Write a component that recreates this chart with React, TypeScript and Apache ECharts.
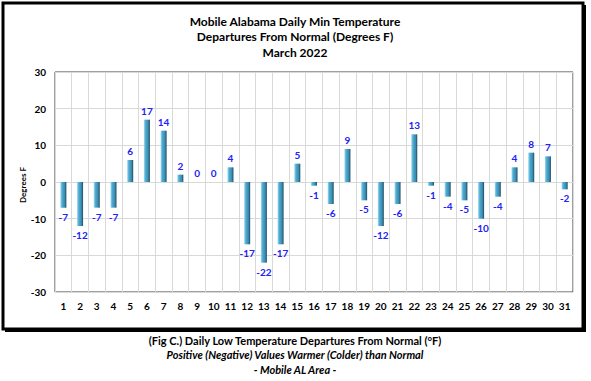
import React, { useEffect, useRef } from "react";
import * as echarts from "echarts";

const days = Array.from({ length: 31 }, (_, i) => String(i + 1));
const departures = [-7, -12, -7, -7, 6, 17, 14, 2, 0, 0, 4, -17, -22, -17, 5, -1, -6, 9, -5, -12, -6, 13, -1, -4, -5, -10, -4, 4, 8, 7, -2];
const titleLines = ["Mobile Alabama Daily Min Temperature", "Departures From Normal (Degrees F)", "March 2022"];
const captionLines = [
  "(Fig C.) Daily Low Temperature Departures From Normal (°F)",
  "Positive (Negative) Values Warmer (Colder) than Normal",
  "- Mobile AL Area -",
];
const yAxisName = "Degrees F";

const FONT = "Lato, 'Open Sans', sans-serif";

export default function App() {
  const ref = useRef<HTMLDivElement>(null);
  useEffect(() => {
    const chart = echarts.init(ref.current!, null, { renderer: "svg" });
    const barColor = new echarts.graphic.LinearGradient(0, 0, 1, 0, [
      { offset: 0, color: "#9edcf2" },
      { offset: 0.3, color: "#4fa9cf" },
      { offset: 0.7, color: "#3b8db2" },
      { offset: 1, color: "#1d4a60" },
    ]);
    chart.setOption({
      animation: false,
      backgroundColor: "#ffffff",
      textStyle: { fontFamily: FONT },
      graphic: [
        { type: "rect", shape: { x: 3, y: 3, width: 580, height: 326 }, style: { fill: "none", stroke: "#000", lineWidth: 3 } },
        { type: "line", shape: { x1: 585, y1: 5, x2: 585, y2: 331 }, style: { stroke: "#000", lineWidth: 2 } },
        { type: "line", shape: { x1: 5, y1: 331, x2: 586, y2: 331 }, style: { stroke: "#000", lineWidth: 2 } },
        {
          type: "text",
          x: 23,
          y: 185,
          rotation: Math.PI / 2,
          style: { text: yAxisName, fontFamily: FONT, fontWeight: "bold", fontSize: 8, fill: "#000", align: "center", verticalAlign: "middle" },
        },
        ...titleLines.map((t, i) => ({
          type: "text",
          x: 295,
          y: 21 + i * 15.5,
          style: { text: t, fontFamily: FONT, fontWeight: "bold", fontSize: 12, fill: "#000", align: "center", verticalAlign: "middle" },
        })),
        ...captionLines.map((t, i) => ({
          type: "text",
          x: 295,
          y: 340 + i * 14.5,
          style: {
            text: t,
            fontFamily: FONT,
            fontWeight: "bold",
            fontStyle: i === 0 ? "normal" : "italic",
            fontSize: 11,
            fill: "#000",
            align: "center",
            verticalAlign: "middle",
          },
        })),
      ],
      grid: { left: 55, top: 72, width: 518, height: 220, show: true, borderColor: "#404040", borderWidth: 1, containLabel: false },
      xAxis: {
        type: "category",
        data: days,
        boundaryGap: true,
        axisLine: { show: false },
        axisTick: { show: false },
        splitLine: { show: true, interval: 0, lineStyle: { color: "#d9d9d9", width: 1 } },
        axisLabel: { interval: 0, margin: 9, fontSize: 10, fontWeight: "bold", color: "#000", fontFamily: FONT },
      },
      yAxis: {
        type: "value",
        min: -30,
        max: 30,
        interval: 10,
        axisLine: { show: false },
        axisTick: { show: false },
        splitLine: { show: true, lineStyle: { color: "#d9d9d9", width: 1 } },
        axisLabel: { margin: 9, fontSize: 10, fontWeight: "bold", color: "#000", fontFamily: FONT },
      },
      series: [
        {
          type: "bar",
          barWidth: 6,
          data: departures.map((v) => ({
            value: v,
            label: { position: v < 0 ? "bottom" : "top" },
          })),
          itemStyle: { color: barColor },
          label: {
            show: true,
            distance: 4,
            fontSize: 10,
            fontWeight: "bold",
            color: "#2222f5",
            fontFamily: FONT,
          },
        },
      ],
    });
    return () => chart.dispose();
  }, []);
  return <div ref={ref} style={{ position: "absolute", left: 0, top: 0, width: 591, height: 381 }} />;
}
